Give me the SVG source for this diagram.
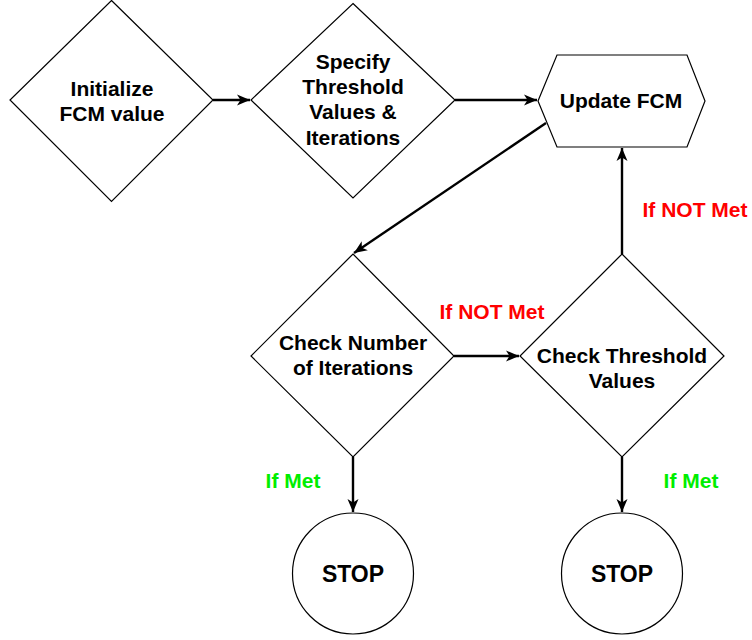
<svg xmlns="http://www.w3.org/2000/svg" width="752" height="640" viewBox="0 0 752 640">
  <defs>
    <style>
      .shape { fill: #ffffff; stroke: #000000; stroke-width: 1.2; }
      .label { font-family: "Liberation Sans", Arial, sans-serif; font-weight: bold; font-size: 21px; fill: #000000; text-anchor: middle; }
      .stop { font-size: 23px; }
      .no { fill: #ff0000; }
      .yes { fill: #00ee00; }
      .edge { fill: none; stroke: #000000; stroke-width: 2.4; }
    </style>
    <marker id="arrow" markerUnits="userSpaceOnUse" markerWidth="14" markerHeight="12" refX="13" refY="6" orient="auto">
      <path d="M0,0.5 L13,6 L0,11.5 L3.5,6 Z" fill="#000000"/>
    </marker>
  </defs>

  <rect width="752" height="640" fill="#ffffff"/>

  <!-- connectors -->
  <g id="connectors">
    <line class="edge" x1="213" y1="100" x2="250" y2="100" marker-end="url(#arrow)"/>
    <line class="edge" x1="455" y1="100" x2="537" y2="100" marker-end="url(#arrow)"/>
    <line class="edge" x1="546" y1="123" x2="354" y2="253" marker-end="url(#arrow)"/>
    <line class="edge" x1="454" y1="356" x2="519" y2="356" marker-end="url(#arrow)"/>
    <line class="edge" x1="622" y1="254" x2="622" y2="148" marker-end="url(#arrow)"/>
    <line class="edge" x1="353" y1="457" x2="353" y2="512" marker-end="url(#arrow)"/>
    <line class="edge" x1="622" y1="457" x2="622" y2="512" marker-end="url(#arrow)"/>
    <text class="label no" x="492" y="319">If NOT Met</text>
    <text class="label no" x="695" y="217">If NOT Met</text>
    <text class="label yes" x="293" y="488">If Met</text>
    <text class="label yes" x="691" y="488">If Met</text>
  </g>

  <!-- start: initialize -->
  <g id="init">
    <polygon class="shape" points="111.5,0.5 213,100 111.5,201.5 10,100"/>
    <text class="label" x="112" y="96">Initialize</text>
    <text class="label" x="112" y="121">FCM value</text>
  </g>

  <!-- threshold / iteration limits -->
  <g id="specify">
    <polygon class="shape" points="353,3.5 455,100 353,198 251,100"/>
    <text class="label" x="353" y="69">Specify</text>
    <text class="label" x="353" y="94">Threshold</text>
    <text class="label" x="353" y="119">Values &amp;</text>
    <text class="label" x="353" y="145">Iterations</text>
  </g>

  <!-- update step -->
  <g id="update">
    <polygon class="shape" points="538,101 557,55 687,55 705,101 687,147 557,147"/>
    <text class="label" x="621" y="108">Update FCM</text>
  </g>

  <!-- iteration check -->
  <g id="check-iter">
    <polygon class="shape" points="353,254 454,356 353,457 251,356"/>
    <text class="label" x="353" y="350">Check Number</text>
    <text class="label" x="353" y="375">of Iterations</text>
  </g>

  <!-- threshold check -->
  <g id="check-thresh">
    <polygon class="shape" points="622,254 724,356 622,457 520,356"/>
    <text class="label" x="622" y="363">Check Threshold</text>
    <text class="label" x="622" y="388">Values</text>
  </g>

  <!-- terminals -->
  <g id="stop-left">
    <circle class="shape" cx="353" cy="573.5" r="60.5"/>
    <text class="label stop" x="353" y="582">STOP</text>
  </g>
  <g id="stop-right">
    <circle class="shape" cx="622" cy="573.5" r="60.5"/>
    <text class="label stop" x="622" y="582">STOP</text>
  </g>
</svg>
